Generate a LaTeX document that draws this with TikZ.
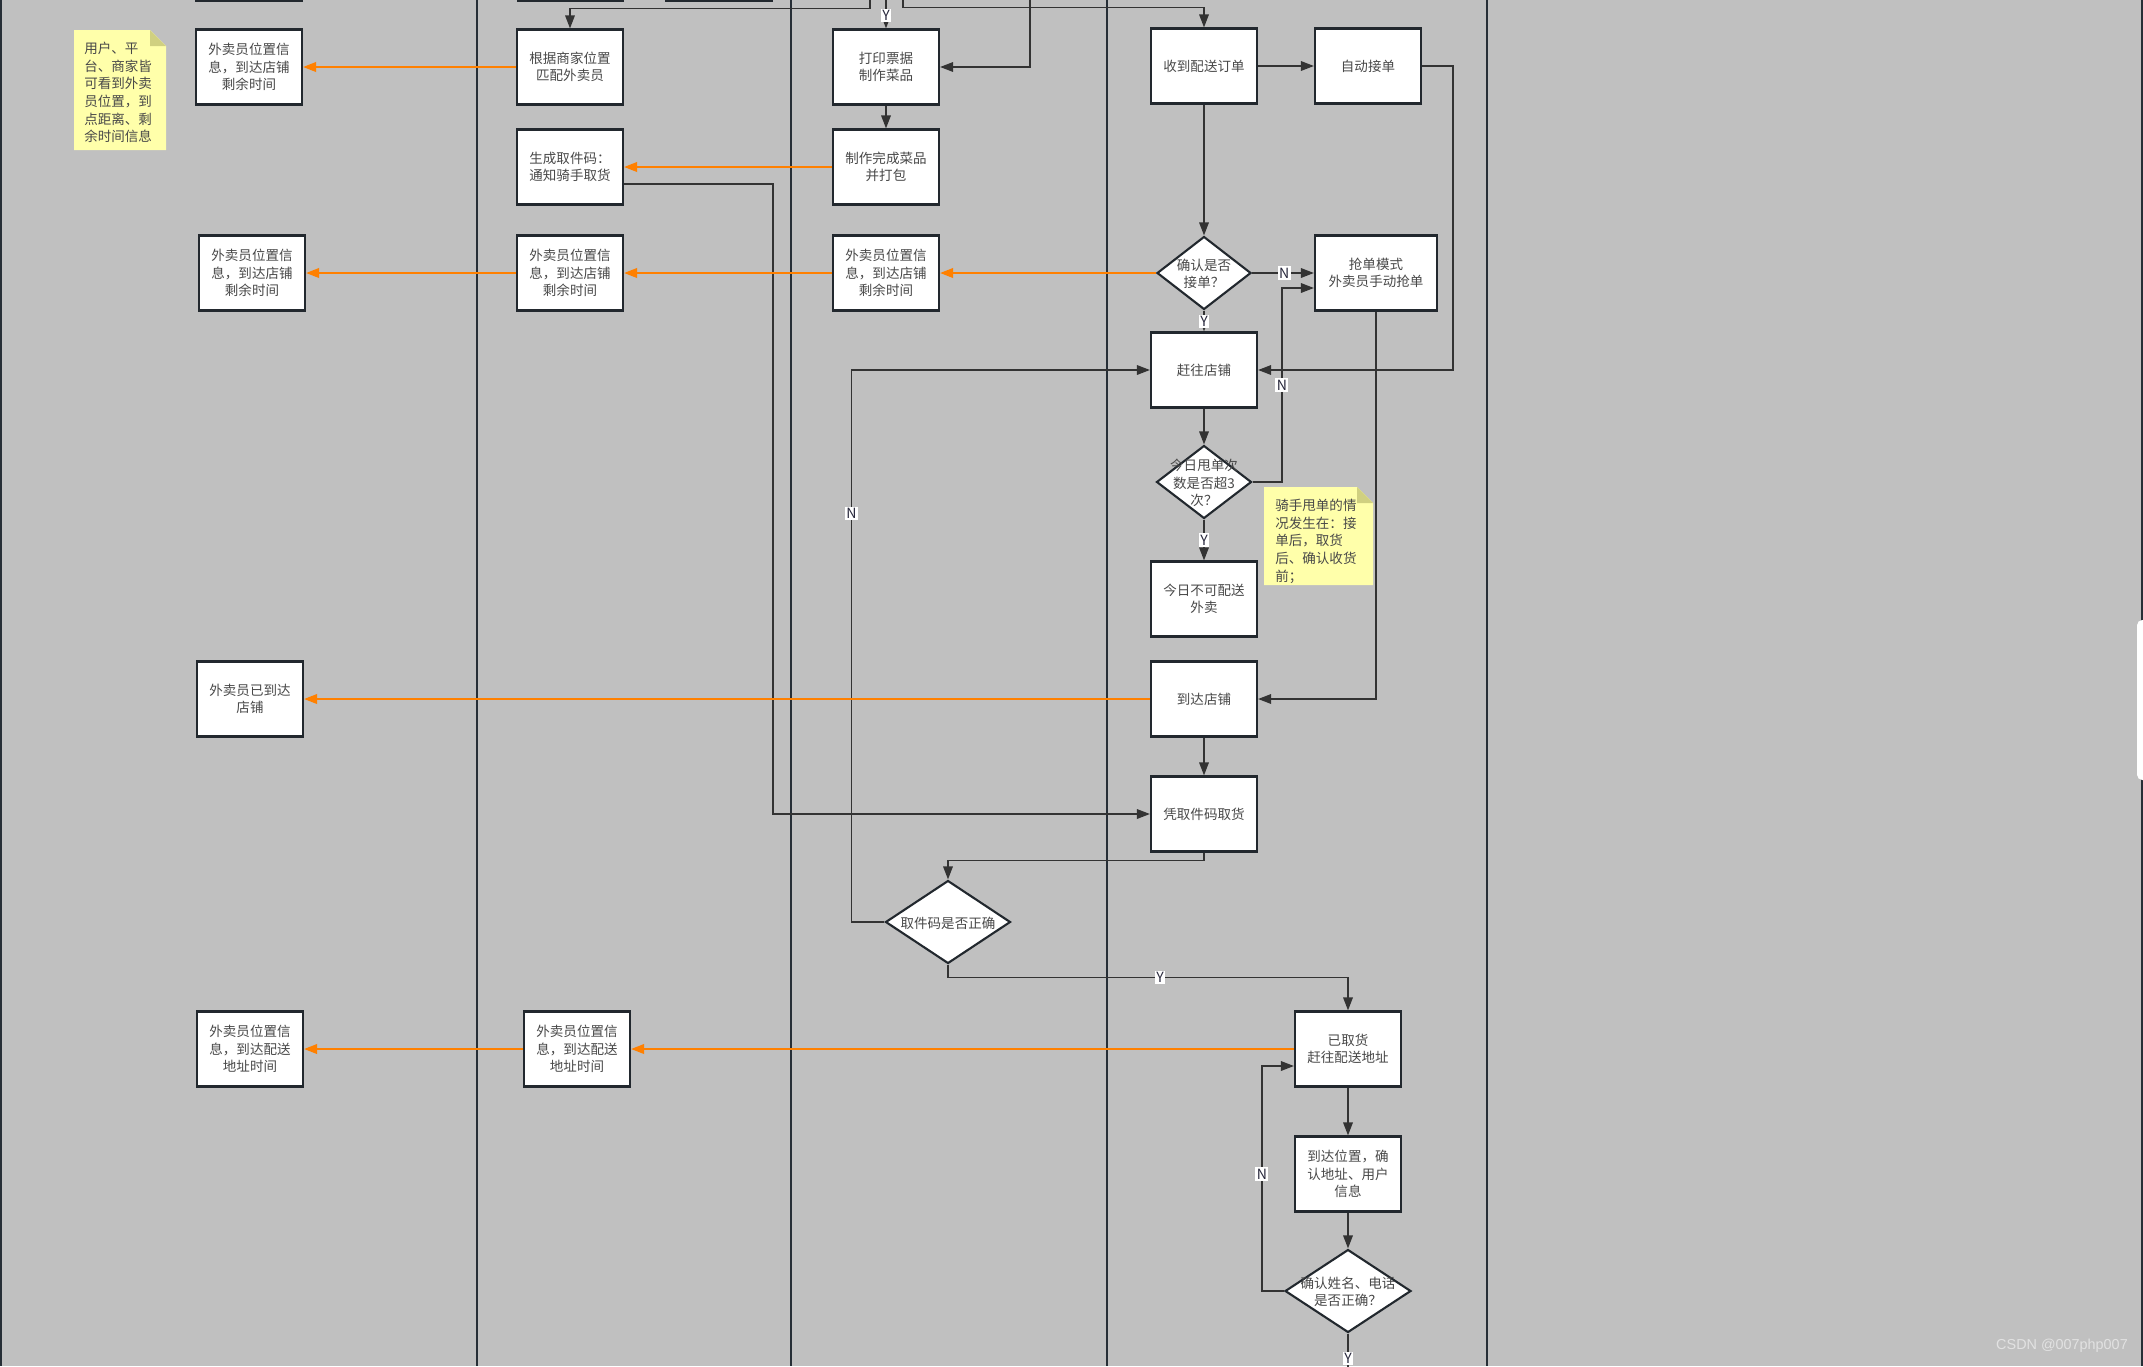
\documentclass[tikz,border=0pt]{standalone}
\usepackage{fontspec}
\newfontfamily\cjk{Noto Sans CJK SC}
\newfontfamily\wmfont{Liberation Sans}
\usetikzlibrary{calc,arrows.meta,shapes.geometric}
\definecolor{lanebg}{RGB}{192,192,192}
\definecolor{laneline}{RGB}{38,46,54}
\definecolor{boxline}{RGB}{34,40,46}
\definecolor{flow}{RGB}{51,51,51}
\definecolor{info}{RGB}{255,128,0}
\definecolor{boxtext}{RGB}{72,72,72}
\definecolor{memo}{RGB}{255,255,170}
\definecolor{memofold}{RGB}{208,208,128}
\newcommand{\dtxt}[1]{\makebox[0pt]{\smash{\raisebox{-0.45em}{\begin{tabular}{@{}c@{}}#1\end{tabular}}}}}
\tikzset{
  wbox/.style={draw=boxline,fill=white,line width=1.2pt,minimum width=2.12cm,minimum height=1.5cm,
    inner sep=1pt,align=center,text=boxtext,font=\cjk\fontsize{7.7}{10}\selectfont},
  wdia/.style={diamond,draw=boxline,fill=white,line width=1.2pt,inner sep=0pt,
    text=boxtext,font=\cjk\fontsize{7.7}{10}\selectfont},
  wflow/.style={flow,line width=0.95pt,-{Triangle[length=0.26cm,width=0.19cm]}},
  winfo/.style={info,line width=1.15pt,-{Triangle[length=0.26cm,width=0.19cm]}},
  wyn/.style={fill=white,inner sep=0.8pt,text={rgb,255:red,40;green,40;blue,60},font=\cjk\fontsize{8}{9}\selectfont},
  wmemo/.style={anchor=north west,inner sep=0pt,align=left,text=boxtext,font=\cjk\fontsize{7.7}{10}\selectfont},
}
\begin{document}
\begin{tikzpicture}[x=0.02cm,y=-0.02cm]
  \fill[lanebg] (0,0) rectangle (2143,1366);
  \useasboundingbox (0,0) rectangle (2143,1366);
  \clip (0,0) rectangle (2143,1366);
  % lanes
  \foreach \x in {1,477,791,1107,1487}
    \draw[laneline,line width=1.3pt] (\x,0) -- (\x,1366);
  \draw[laneline,line width=1pt] (2142,0) -- (2142,1366);
  \fill[white,rounded corners=3pt] (2137,620) rectangle (2150,780);
  % boxes cut by the top edge
  \foreach \a/\b in {196/302,518/623,666/772}
    \draw[boxline,line width=1.2pt,fill=white] (\a,-40) rectangle (\b,0.5);
  % notes
  \fill[memo] (74,30) -- (150,30) -- (166,46) -- (166,150) -- (74,150) -- cycle;
  \fill[memofold] (150,30) -- (166,46) -- (150,46) -- cycle;
  \node[wmemo] (memo1) at (84,42) {用户、平\\台、商家皆\\可看到外卖\\员位置，到\\点距离、剩\\余时间信息};
  \fill[memo] (1264,487) -- (1357,487) -- (1373,503) -- (1373,585) -- (1264,585) -- cycle;
  \fill[memofold] (1357,487) -- (1373,503) -- (1357,503) -- cycle;
  \node[wmemo] (memo2) at (1275,499) {骑手甩单的情\\况发生在：接\\单后，取货\\后、确认收货\\前；};

  % lane boxes
  \foreach \n/\x/\y in {p1a/249/67,p1b/252/273,m3/570/273,s3/886/273}
    {\node[wbox] (\n) at (\x,\y) {外卖员位置信\\息，到达店铺\\剩余时间};}
  \foreach \n/\x/\y in {p1d/250/1049,m4/577/1049}
    {\node[wbox] (\n) at (\x,\y) {外卖员位置信\\息，到达配送\\地址时间};}
  \node[wbox] (p1c) at (250,699) {外卖员已到达\\店铺};
  \node[wbox] (m1) at (570,67) {根据商家位置\\匹配外卖员};
  \node[wbox] (m2) at (570,167) {生成取件码：\\通知骑手取货};
  \node[wbox] (s1) at (886,67) {打印票据\\制作菜品};
  \node[wbox] (s2) at (886,167) {制作完成菜品\\并打包};
  \node[wbox] (r1) at (1204,66) {收到配送订单};
  \node[wbox] (r2) at (1368,66) {自动接单};
  \node[wbox,minimum width=2.44cm] (r3) at (1376,273) {抢单模式\\外卖员手动抢单};
  \node[wbox] (r4) at (1204,370) {赶往店铺};
  \node[wbox] (r5) at (1204,599) {今日不可配送\\外卖};
  \node[wbox] (r6) at (1204,699) {到达店铺};
  \node[wbox] (r7) at (1204,814) {凭取件码取货};
  \node[wbox] (r8) at (1348,1049) {已取货\\赶往配送地址};
  \node[wbox] (r9) at (1348,1174) {到达位置，确\\认地址、用户\\信息};
  \node[wdia,minimum width=1.88cm,minimum height=1.46cm] (d1) at (1204,273) {\dtxt{确认是否\\接单？}};
  \node[wdia,minimum width=1.9cm,minimum height=1.46cm] (d2) at (1204,482) {\dtxt{今日甩单次\\数是否超3\\次？}};
  \node[wdia,minimum width=2.5cm,minimum height=1.66cm] (d3) at (948,922) {\dtxt{取件码是否正确}};
  \node[wdia,minimum width=2.52cm,minimum height=1.66cm] (d4) at (1348,1291) {\dtxt{确认姓名、电话\\是否正确？}};

  % flow from above
  \coordinate (t1) at (870,0);
  \coordinate (t2) at (886,0);
  \coordinate (t3) at (903,0);
  \coordinate (t4) at (1030,0);
  \coordinate (b1) at (1348,1400);
  \draw[wflow] (t1) |- ($(m1.north)+(0,-20)$) -- (m1.north);
  \draw[wflow] (t2) -- node[wyn,pos=0.55] (y0) {Y} (s1.north);
  \draw[wflow] (t3) |- ($(r1.north)+(0,-20)$) -- (r1.north);
  \draw[wflow] (t4) |- (s1.east);

  % flow
  \draw[wflow] (s1) -- (s2);
  \draw[wflow] (r1) -- (r2);
  \draw[wflow] (r1) -- (d1);
  \draw[wflow] (d1) -- node[wyn,pos=0.52] (n1) {N} (r3);
  \draw[wflow] (d1) -- node[wyn,pos=0.54] (y1) {Y} (r4);
  \draw[wflow] (r2.east) -- ($(r2.east)+(31,0)$) |- (r4.east);
  \draw[wflow] (r4) -- (d2);
  \draw[wflow] (d2.east) -| node[wyn,pos=0.75] (n2) {N} ($(r3.west)+(-32,15)$) -- ($(r3.west)+(0,15)$);
  \draw[wflow] (d2) -- node[wyn,pos=0.5] (y2) {Y} (r5);
  \draw[wflow] (r3.south) |- (r6.east);
  \draw[wflow] (r6) -- (r7);
  \draw[wflow] ($(m2.east)+(0,17)$) -- ++(149,0) |- (r7.west);
  \draw[wflow] (r7.south) -- ++(0,8) -| (d3.north);
  \draw[wflow] (d3.west) -- ++(-33,0) |- node[wyn,pos=0.37] (n3) {N} (r4.west);
  \draw[wflow] (d3.south) -- ++(0,13) -| node[wyn,pos=0.265] (y3) {Y} (r8.north);
  \draw[wflow] (r8) -- (r9);
  \draw[wflow] (r9) -- (d4);
  \draw[wflow] (d4.west) -- ++(-22,0) |- node[wyn,pos=0.26] (n4) {N} ($(r8.west)+(0,17)$);
  \draw[wflow,-] (d4.south) -- node[wyn,pos=0.38] (y4) {Y} (b1);

  % position info
  \draw[winfo] (m1) -- (p1a);
  \draw[winfo] (s2) -- (m2);
  \draw[winfo] (d1) -- (s3);
  \draw[winfo] (s3) -- (m3);
  \draw[winfo] (m3) -- (p1b);
  \draw[winfo] (r6) -- (p1c);
  \draw[winfo] (r8) -- (m4);
  \draw[winfo] (m4) -- (p1d);

  \node[font=\wmfont\fontsize{8.2}{9}\selectfont,text={rgb,255:red,226;green,226;blue,226}] (wm) at (2062,1346) {CSDN @007php007};
\end{tikzpicture}
\end{document}
